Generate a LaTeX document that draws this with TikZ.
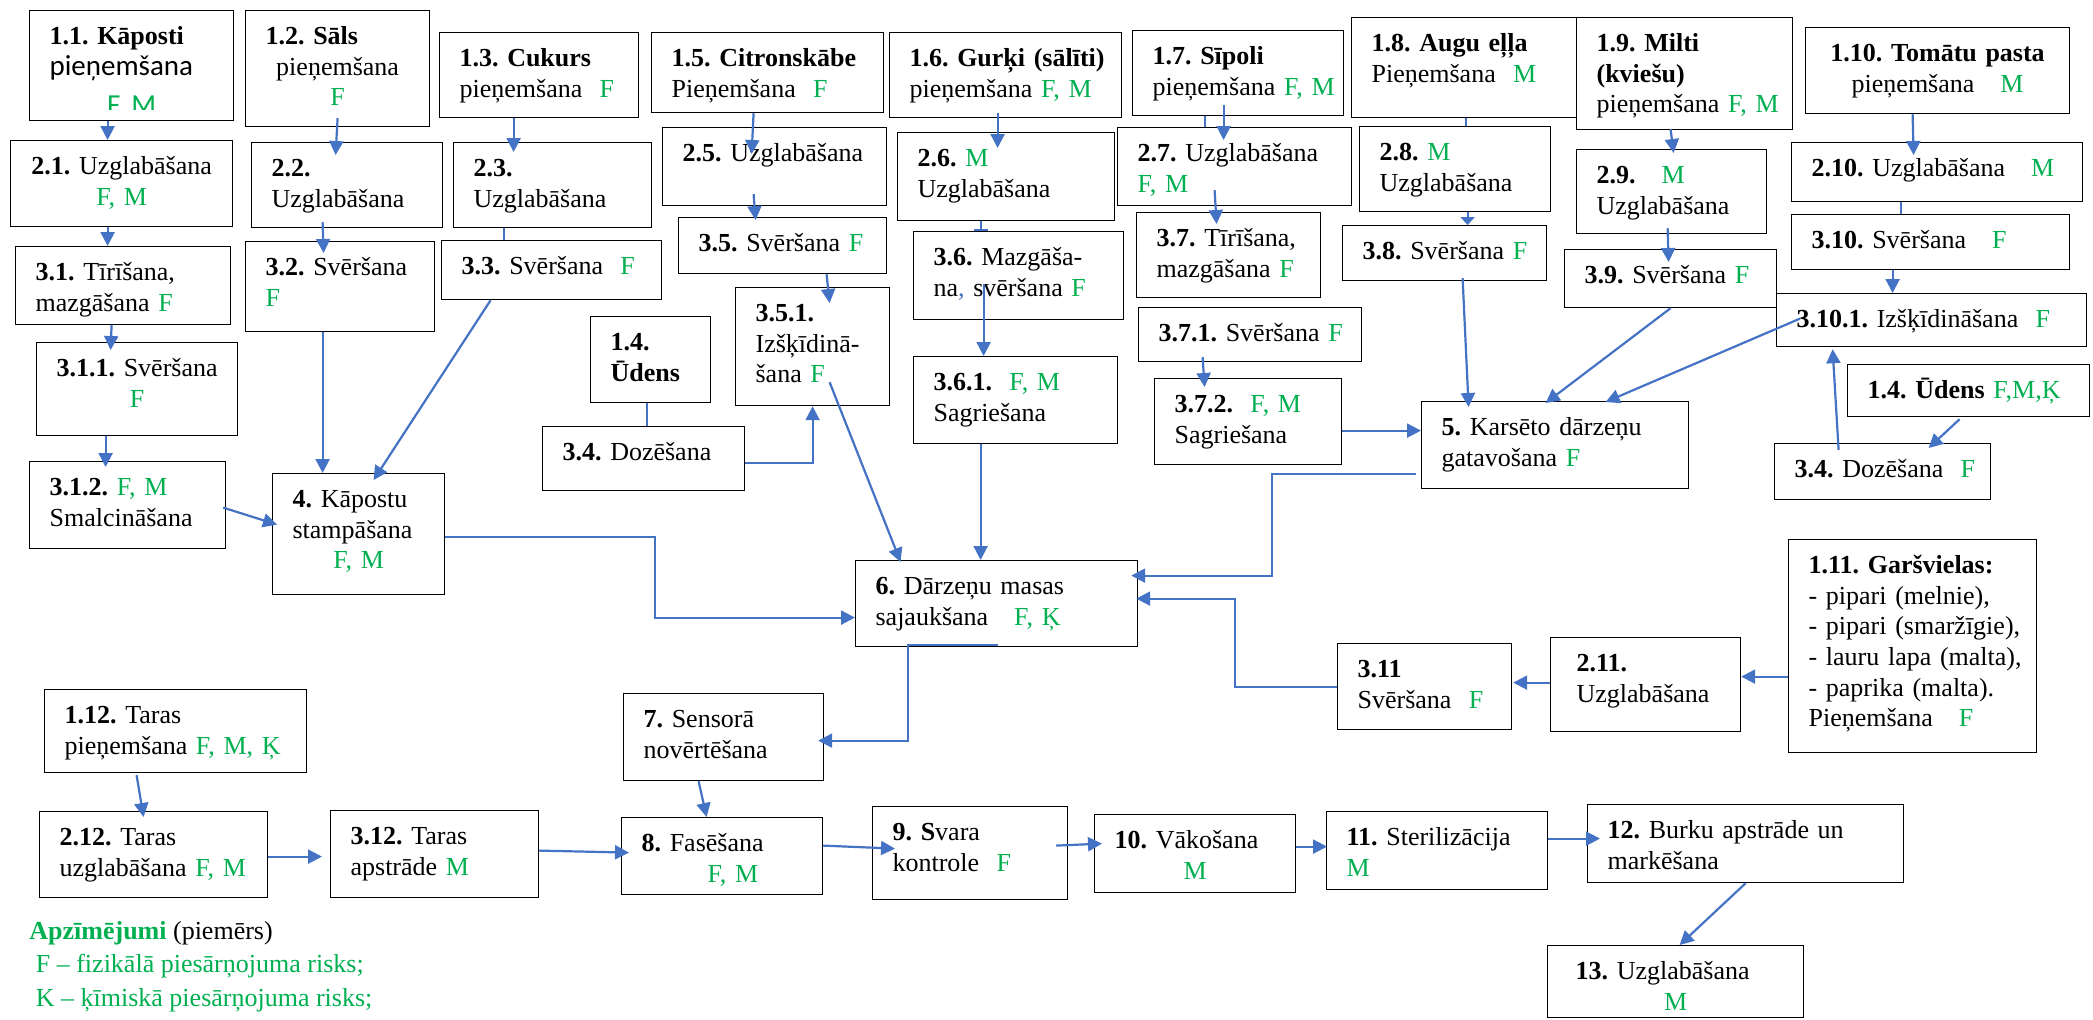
\documentclass[tikz,border=0pt]{standalone}
\usepackage{fontspec}
\setmainfont{Liberation Serif}
\newfontfamily\calfont{Carlito}
\usetikzlibrary{calc, arrows.meta}
\definecolor{riskgreen}{HTML}{00B050}
\definecolor{flowblue}{HTML}{4472C4}
\newcommand{\nr}[1]{\textbf{#1}}
\newcommand{\rk}[1]{\textcolor{riskgreen}{#1}}
\newcommand{\ctr}[1]{\hspace*{-7pt}\makebox[\linewidth]{#1}}
\frenchspacing

\begin{document}
\begin{tikzpicture}[x=0.5pt, y=-0.5pt,
    box/.style={draw, line width=0.6pt, fill=white, anchor=north west, inner xsep=3pt, inner ysep=5pt,
      text height=12pt, font=\fontsize{13}{15.3}\selectfont},
    lbox/.style={box, align=left, execute at begin node={\leftskip=7pt}},
    cbox/.style={box, align=center},
    ln/.style={draw=flowblue, line width=1.1pt},
    arr/.style={ln, -{Triangle[length=7pt, width=7pt]}}]
\useasboundingbox (0,0) rectangle (2093,1019);

\node[lbox, text width=96pt, text depth=33pt] (b1-1) at (29,10) {\nr{1.1. Kāposti}\\ {\calfont\fontsize{14.5}{15.3}\selectfont pieņemšana}};
\begin{scope}
  \clip (b1-1.north west) rectangle ($(b1-1.south east)+(0,-12)$);
  \node[anchor=base, inner sep=0pt, font=\calfont\fontsize{14.5}{15.3}\selectfont] (fm11) at ($(b1-1.south)+(0,-7)$) {\rk{F, M}};
\end{scope}
\node[lbox, text width=86pt, text depth=36pt] (b1-2) at (245,10) {\nr{1.2. Sāls}\\ \ctr{pieņemšana}\\ \ctr{\rk{F}}};
\node[lbox, text width=93.5pt, text depth=20.5pt] (b1-3) at (439,32) {\nr{1.3. Cukurs}\\ pieņemšana~~\rk{F}};
\node[lbox, text width=110pt, text depth=18pt] (b1-5) at (651,32) {\nr{1.5. Citronskābe}\\ Pieņemšana~~\rk{F}};
\node[lbox, text width=110pt, text depth=20.5pt] (b1-6) at (889,32) {\nr{1.6. Gurķi (sālīti)}\\ pieņemšana \rk{F, M}};
\node[lbox, text width=99.5pt, text depth=20.5pt] (b1-7) at (1132,30) {\nr{1.7. Sīpoli}\\ pieņemšana \rk{F, M}};
\node[lbox, text width=107.5pt, text depth=28pt] (b1-8) at (1351,17) {\nr{1.8. Augu eļļa}\\ Pieņemšana~~\rk{M}};
\node[lbox, text width=102pt, text depth=34pt] (b1-9) at (1576,17) {\nr{1.9. Milti}\\ \nr{(kviešu)}\\ pieņemšana \rk{F, M}};
\node[cbox, text width=126pt, text depth=21pt] (b1-10) at (1805,27) {\nr{1.10. Tomātu pasta}\\ pieņemšana~~~\rk{M}};

\node[cbox, text width=105pt, text depth=21pt] (b2-1) at (10,140) {\nr{2.1.} Uzglabāšana\\ \rk{F, M}};
\node[lbox, text width=89.5pt, text depth=20.5pt] (b2-2) at (251,142) {\nr{2.2.}\\ Uzglabāšana};
\node[lbox, text width=93pt, text depth=20.5pt] (b2-3) at (453,142) {\nr{2.3.}\\ Uzglabāšana};
\node[lbox, text width=106pt, text depth=17pt] (b2-5) at (662,127) {\nr{2.5.} Uzglabāšana};
\node[lbox, text width=102.5pt, text depth=22pt] (b2-6) at (897,132) {\nr{2.6.} \rk{M}\\ Uzglabāšana};
\node[lbox, text width=111pt, text depth=17pt] (b2-7) at (1117,127) {\nr{2.7.} Uzglabāšana\\ \rk{F, M}};
\node[lbox, text width=89.5pt, text depth=20.5pt] (b2-8) at (1359,126) {\nr{2.8.} \rk{M}\\ Uzglabāšana};
\node[lbox, text width=89pt, text depth=20pt] (b2-9) at (1576,149) {\nr{2.9.}~~~\rk{M}\\ Uzglabāšana};
\node[lbox, text width=139.5pt, text depth=7.5pt] (b2-10) at (1791,142) {\nr{2.10.} Uzglabāšana~~~\rk{M}};

\node[lbox, text width=101.5pt, text depth=17pt] (b3-1) at (15,246) {\nr{3.1.} Tīrīšana,\\ mazgāšana \rk{F}};
\node[cbox, text width=94.5pt, text depth=24.5pt] (b3-1-1) at (36,342) {\nr{3.1.1.} Svēršana\\ \rk{F}};
\node[lbox, text width=92pt, text depth=21.5pt] (b3-1-2) at (29,461) {\nr{3.1.2.} \rk{F, M}\\ Smalcināšana};
\node[lbox, text width=88.5pt, text depth=23pt] (b3-2) at (245,241) {\nr{3.2.} Svēršana\\ \rk{F}};
\node[lbox, text width=104pt, text depth=7.5pt] (b3-3) at (441,240) {\nr{3.3.} Svēršana~~\rk{F}};
\node[lbox, text width=98pt, text depth=6pt] (b3-5) at (678,217) {\nr{3.5.} Svēršana \rk{F}};
\node[lbox, text width=71pt, text depth=37pt] (b3-5-1) at (735,287) {\nr{3.5.1.}\\ Izšķīdinā-\\ šana \rk{F}};
\node[lbox, text width=99pt, text depth=22pt] (b3-6) at (913,231) {\nr{3.6.} Mazgāša-\\ na{\color{flowblue},} svēršana \rk{F}};
\node[lbox, text width=96pt, text depth=21.5pt] (b3-6-1) at (913,356) {\nr{3.6.1.}~~\rk{F, M}\\ Sagriešana};
\node[lbox, text width=86pt, text depth=20.5pt] (b3-7) at (1136,212) {\nr{3.7.} Tīrīšana,\\ mazgāšana \rk{F}};
\node[lbox, text width=105.5pt, text depth=5pt] (b3-7-1) at (1138,307) {\nr{3.7.1.} Svēršana \rk{F}};
\node[lbox, text width=87.5pt, text depth=21pt] (b3-7-2) at (1154,378) {\nr{3.7.2.}~~\rk{F, M}\\ Sagriešana};
\node[lbox, text width=96pt, text depth=5.5pt] (b3-8) at (1342,225) {\nr{3.8.} Svēršana \rk{F}};
\node[lbox, text width=100pt, text depth=7pt] (b3-9) at (1564,249) {\nr{3.9.} Svēršana \rk{F}};
\node[lbox, text width=133pt, text depth=5.5pt] (b3-10) at (1791,214) {\nr{3.10.} Svēršana~~~\rk{F}};
\node[lbox, text width=149pt, text depth=4.5pt] (b3-10-1) at (1776,293) {\nr{3.10.1.} Izšķīdināšana~~\rk{F}};

\node[lbox, text width=54pt, text depth=21pt] (b1-4a) at (590,316) {\nr{1.4.}\\ \nr{Ūdens}};
\node[lbox, text width=95pt, text depth=10pt] (b3-4a) at (542,426) {\nr{3.4.} Dozēšana};
\node[lbox, text width=115pt, text depth=4pt] (b1-4b) at (1847,364) {\nr{1.4. Ūdens} \rk{F,M,Ķ}};
\node[lbox, text width=102pt, text depth=6pt] (b3-4b) at (1774,443) {\nr{3.4.} Dozēšana~~\rk{F}};

\node[lbox, text width=80pt, text depth=38.5pt] (st4) at (272,473) {\nr{4.} Kāpostu\\ stampāšana\\ \ctr{\rk{F, M}}};
\node[lbox, text width=127.5pt, text depth=21.5pt] (st5) at (1421,401) {\nr{5.} Karsēto dārzeņu\\ gatavošana \rk{F}};
\node[lbox, text width=135pt, text depth=21pt] (st6) at (855,560) {\nr{6.} Dārzeņu masas\\ sajaukšana~~~\rk{F, Ķ}};

\node[lbox, text width=81pt, text depth=21pt] (b3-11) at (1337,643) {\nr{3.11}\\ Svēršana~~\rk{F}};
\node[lbox, text width=89pt, text depth=25pt] (b2-11) at (1550,637) {\hspace*{3pt}\nr{2.11.}\\ \hspace*{3pt}Uzglabāšana};
\node[lbox, text width=118pt, text depth=84.5pt] (b1-11) at (1788,539) {\nr{1.11. Garšvielas:}\\ - pipari (melnie),\\ - pipari (smaržīgie),\\ - lauru lapa (malta),\\ - paprika (malta).\\ Pieņemšana~~~\rk{F}};

\node[lbox, text width=125pt, text depth=19.5pt] (b1-12) at (44,689) {\nr{1.12.} Taras\\ pieņemšana \rk{F, M, Ķ}};
\node[lbox, text width=108pt, text depth=21pt] (b2-12) at (39,811) {\nr{2.12.} Taras\\ uzglabāšana \rk{F, M}};
\node[lbox, text width=98pt, text depth=21.5pt] (b3-12) at (330,810) {\nr{3.12.} Taras\\ apstrāde \rk{M}};

\node[lbox, text width=94pt, text depth=21.5pt] (st7) at (623,693) {\nr{7.} Sensorā\\ novērtēšana};
\node[lbox, text width=94.5pt, text depth=16.5pt] (st8) at (621,817) {\nr{8.} Fasēšana\\ \hspace*{33pt}\rk{F, M}};
\node[lbox, text width=91.5pt, text depth=24.5pt] (st9) at (872,806) {\nr{9. S}vara\\ kontrole~~\rk{F}};
\node[lbox, text width=94.5pt, text depth=17pt] (st10) at (1094,814) {\nr{10.} Vākošana\\ \ctr{\rk{M}}};
\node[lbox, text width=104.5pt, text depth=17pt] (st11) at (1326,811) {\nr{11.} Sterilizācija\\ \rk{M}};
\node[lbox, text width=152pt, text depth=17pt] (st12) at (1587,804) {\nr{12.} Burku apstrāde un\\ markēšana};
\node[lbox, text width=122pt, text depth=14pt] (st13) at (1547,945) {\hspace*{4pt}\nr{13.} Uzglabāšana\\ \ctr{\rk{M}}};

\node[anchor=north west, align=left, inner sep=0pt, font=\fontsize{13}{16.7}\selectfont] (legend) at (29,921) {\rk{\textbf{Apzīmējumi}} (piemērs)\\ \rk{~F – fizikālā piesārņojuma risks;}\\ \rk{~K – ķīmiskā piesārņojuma risks;}};

\draw[arr] ($(b1-1.south)+(-24,0)$) -- ($(b2-1.north)+(-14,0)$);
\draw[arr] ($(b2-1.south)+(-14,0)$) -- ($(b3-1.north)+(-15.5,0)$);
\draw[arr] ($(b3-1.south)+(-11.5,0)$) -- ($(b3-1-1.north)+(-26.5,8)$);
\draw[arr] ($(b3-1-1.south)+(-31.5,0)$) -- ($(b3-1-2.north)+(-22,6)$);
\draw[arr] ($(b3-1-2.east)+(-3,2.5)$) -- ($(st4.west)+(5,-9.5)$);
\draw[arr] ($(b1-2.south)+(0,-9)$) -- ($(b2-2.north)+(-11.5,13)$);
\draw[arr] ($(b2-2.south)+(-24.5,-6)$) -- ($(b3-2.north)+(-16.5,12)$);
\draw[arr] ($(b3-2.south)+(-17.5,0)$) -- ($(st4.north)+(-36,0)$);
\draw[arr] ($(b1-3.south)+(-25.5,0)$) -- ($(b2-3.north)+(-39,10)$);
\draw[ln] ($(b2-3.south)+(-49,0)$) -- ($(b3-3.north)+(-48,0)$);
\draw[arr] ($(b3-3.south)+(-61,0)$) -- ($(st4.north)+(15,7)$);
\draw[arr] ($(st4.east)+(0,2.5)$) -- ++(210,0) |- ($(st6.west)+(0,14)$);
\draw[ln] ($(b1-4a.south)+(-4,0)$) -- ($(b3-4a.north)+(3,0)$);
\draw[arr] ($(b3-4a.east)+(0,4)$) -| (b3-5-1.south);
\draw[arr] ($(b1-5.south)+(-14,0)$) -- ($(b2-5.north)+(-23,27)$);
\draw[arr] ($(b2-5.south)+(-21,-12)$) -- ($(b3-5.north)+(-27,3)$);
\draw[arr] ($(b3-5.south)+(44,0)$) -- ($(b3-5-1.north)+(17,16)$);
\draw[arr] ($(b3-5-1.south)+(17,-24)$) -- ($(st6.north)+(-96,2)$);
\draw[arr] ($(b1-6.south)+(-8,-5)$) -- ($(b2-6.north)+(-8.5,16)$);
\draw[ln, -{Bar[width=7pt]}] ($(b2-6.south)+(-25.5,0)$) -- ($(b3-6.north)+(-38,0)$);
\draw[arr] ($(b3-6.south)+(-35,-36)$) -- ($(b3-6-1.north)+(-32,0)$);
\draw[arr] ($(b3-6-1.south)+(-35,0)$) -- ($(st6.north)+(-16,0)$);
\draw[ln] ($(b1-7.south)+(-33.5,0)$) -- ($(b2-7.north)+(-30,0)$);
\draw[arr] ($(b1-7.south)+(-14.5,-11)$) -- ($(b2-7.north)+(-11,13)$);
\draw[arr] ($(b2-7.south)+(-20,-16)$) -- ($(b3-7.north)+(-12,12)$);
\draw[arr] ($(b3-7-1.south)+(-47.5,-5)$) -- ($(b3-7-2.north)+(-43.5,9)$);
\draw[arr] ($(b3-7-2.east)+(0,9)$) -- ($(st5.west)+(0,-14.5)$);
\draw[ln] ($(b1-8.south)+(0.5,0)$) -- ($(b2-8.north)+(10.5,0)$);
\draw[ln, -{Triangle[length=4pt, width=7pt]}] ($(b2-8.south)+(12.5,0)$) -- ($(b3-8.north)+(23,0)$);
\draw[arr] ($(b3-8.south)+(18,-3)$) -- ($(st5.north)+(-86.5,6)$);
\draw[arr] ($(b1-9.south)+(-14,-1)$) -- ($(b2-9.north)+(2,4)$);
\draw[arr] ($(b2-9.south)+(-4,-6)$) -- ($(b3-9.north)+(-2,13)$);
\draw[arr] (b3-9.south) -- ($(st5.north)+(-9.5,2)$);
\draw[arr] ($(b1-10.south)+(-25,0)$) -- ($(b2-10.north)+(-23.5,13)$);
\draw[ln] ($(b2-10.south)+(-36.5,0)$) -- ($(b3-10.north)+(-30,0)$);
\draw[arr] ($(b3-10.south)+(-38,0)$) -- ($(b3-10-1.north)+(-39,0)$);
\draw[arr] ($(b3-10-1.west)+(24,-1.5)$) -- ($(st5.north)+(50.5,1)$);
\draw[arr] ($(b1-4b.south)+(-9,2)$) -- ($(b3-4b.north)+(46,5)$);
\draw[arr] ($(b3-4b.north)+(-44,7)$) -- ($(b3-10-1.south)+(-99,2)$);
\draw[arr] ($(st5.west)+(-5,28.5)$) -- ++(-144,0) |- ($(st6.east)+(-7,-28)$);
\draw[arr] ($(b1-11.west)+(0,30.5)$) -- ($(b2-11.east)+(0,-8)$);
\draw[arr] ($(b2-11.west)+(0,-2)$) -- ($(b3-11.east)+(1,-4)$);
\draw[arr] (b3-11.west) -- ++(-102,0) |- ($(st6.east)+(-2,-5)$);
\draw[arr] ($(st6.south)+(1,-2)$) -- ++(-90,0) |- ($(st7.east)+(-6,3.5)$);
\draw[arr] ($(st7.south)+(-25,0)$) -- ($(st8.north)+(-15.5,0)$);
\draw[arr] ($(b1-12.south)+(-39,2)$) -- ($(b2-12.north)+(-10,6)$);
\draw[arr] ($(b2-12.east)+(0,2)$) -- ($(b3-12.west)+(-8,2.5)$);
\draw[arr] ($(b3-12.east)+(0,-3.5)$) -- ($(st8.west)+(8,-3.5)$);
\draw[arr] ($(st8.east)+(0,-10.5)$) -- ($(st9.west)+(23,-4.5)$);
\draw[arr] ($(st9.east)+(-12,-7.5)$) -- ($(st10.west)+(8,-10)$);
\draw[arr] ($(st10.east)+(0,-7)$) -- ($(st11.west)+(1,-4)$);
\draw[arr] ($(st11.east)+(0,-12)$) -- ($(st12.west)+(13,-5)$);
\draw[arr] (st12.south) -- ($(st13.north)+(4,0)$);
\end{tikzpicture}
\end{document}
